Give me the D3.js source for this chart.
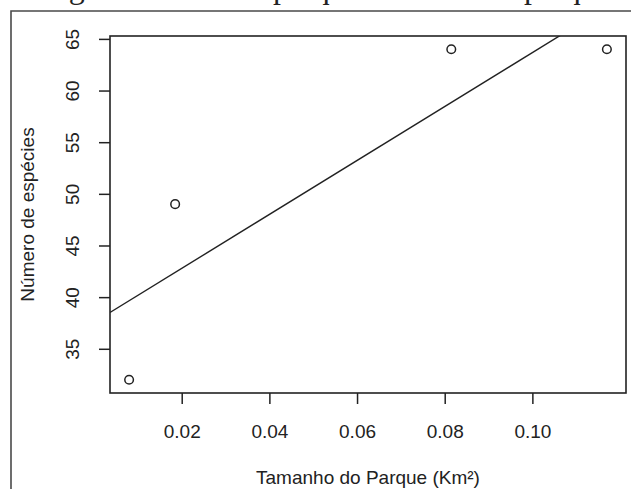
<!DOCTYPE html>
<html lang="pt">
<head>
  <meta charset="UTF-8" />
  <title>Número de espécies x Tamanho do Parque</title>
  <style>
    body { margin: 0; background: #fff; }
    svg { display: block; background: #fff; }
    .axis text { font-family: 'Liberation Sans', Arial, sans-serif; font-size: 19px; fill: #222; }
    .axis line { stroke: #222; stroke-width: 1.5px; }
    .axis path { display: none; }
    .lab { font-family: 'Liberation Sans', Arial, sans-serif; font-size: 19px; fill: #222; }
    .caption { font-family: 'Liberation Serif', 'Times New Roman', serif; font-size: 32px; fill: #222; }
  </style>
</head>
<body>
  <svg width="631" height="489"></svg>

  <script src="https://d3js.org/d3.v7.min.js"></script>
  <script>
    // --- data
    const parkSize = [0.008, 0.0185, 0.0815, 0.117];   // Km²
    const speciesCount = [32, 49, 64, 64];
    const xTicks = [0.02, 0.04, 0.06, 0.08, 0.10];
    const yTicks = [35, 40, 45, 50, 55, 60, 65];
    const xTitle = "Tamanho do Parque (Km²)";
    const yTitle = "Número de espécies";

    const svg = d3.select("svg");
    const box = { left: 110, right: 626, top: 36, bottom: 393 };

    // caption line above the figure, cut off by the crop (only descenders show)
    const cap = svg.append("text").attr("class", "caption").attr("y", -2);
    cap.append("tspan").attr("x", 42).text("Figura 2. Número");
    cap.append("tspan").attr("x", 273).text("parques e tamanho");
    cap.append("tspan").attr("x", 524).text("parques");

    // outer frame of the figure (runs off the right and bottom)
    svg.append("path")
      .attr("d", "M11,489V11H631")
      .attr("fill", "none").attr("stroke", "#4a4a4a").attr("stroke-width", 1.6);

    // R style 4% padding on the data range
    function pad(ext) {
      const d = (ext[1] - ext[0]) * 0.04;
      return [ext[0] - d, ext[1] + d];
    }
    const x = d3.scaleLinear().domain(pad(d3.extent(parkSize))).range([box.left, box.right]);
    const y = d3.scaleLinear().domain(pad(d3.extent(speciesCount))).range([box.bottom, box.top]);

    // axes
    svg.append("g").attr("class", "axis")
      .attr("transform", `translate(0,${box.bottom})`)
      .call(d3.axisBottom(x).tickValues(xTicks).tickSize(11).tickPadding(21).tickFormat(d3.format(".2f")));

    const yAxisG = svg.append("g").attr("class", "axis")
      .attr("transform", `translate(${box.left},0)`)
      .call(d3.axisLeft(y).tickValues(yTicks).tickSize(11));
    yAxisG.selectAll(".tick text")
      .attr("transform", "rotate(-90)")
      .attr("x", 0).attr("y", -38).attr("dy", "0.35em")
      .attr("text-anchor", "middle");

    // plot box
    svg.append("rect")
      .attr("x", box.left).attr("y", box.top)
      .attr("width", box.right - box.left).attr("height", box.bottom - box.top)
      .attr("fill", "none").attr("stroke", "#222").attr("stroke-width", 1.6);

    // least squares line (abline of lm)
    const mx = d3.mean(parkSize), my = d3.mean(speciesCount);
    let sxy = 0, sxx = 0;
    parkSize.forEach((v, i) => { sxy += (v - mx) * (speciesCount[i] - my); sxx += (v - mx) * (v - mx); });
    const slope = sxy / sxx, icpt = my - slope * mx;

    svg.append("clipPath").attr("id", "plotclip")
      .append("rect")
      .attr("x", box.left).attr("y", box.top)
      .attr("width", box.right - box.left).attr("height", box.bottom - box.top);

    const xd = x.domain();
    svg.append("line")
      .attr("clip-path", "url(#plotclip)")
      .attr("x1", x(xd[0])).attr("y1", y(icpt + slope * xd[0]))
      .attr("x2", x(xd[1])).attr("y2", y(icpt + slope * xd[1]))
      .attr("stroke", "#222").attr("stroke-width", 1.4);

    // points
    svg.append("g").selectAll("circle")
      .data(parkSize.map((v, i) => ({ size: v, n: speciesCount[i] })))
      .join("circle")
        .attr("cx", d => x(d.size))
        .attr("cy", d => y(d.n))
        .attr("r", 4.3)
        .attr("fill", "none")
        .attr("stroke", "#222")
        .attr("stroke-width", 1.5);

    // axis titles
    svg.append("text").attr("class", "lab")
      .attr("x", (box.left + box.right) / 2).attr("y", 484)
      .attr("text-anchor", "middle")
      .text(xTitle);

    svg.append("text").attr("class", "lab")
      .attr("transform", `translate(27,${(box.top + box.bottom) / 2}) rotate(-90)`)
      .attr("text-anchor", "middle").attr("dy", "0.35em")
      .text(yTitle);
  </script>
</body>
</html>
